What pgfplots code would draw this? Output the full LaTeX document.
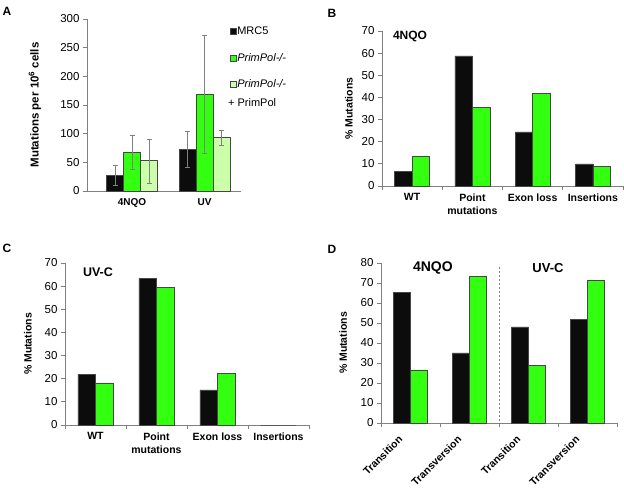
\documentclass[border=0pt]{standalone}
\usepackage{fontspec}
\setmainfont{Liberation Sans}
\usepackage{pgfplots}
\pgfplotsset{compat=1.18}

\definecolor{barblack}{RGB}{12,12,12}
\definecolor{bargreen}{RGB}{51,255,17}
\definecolor{barlight}{RGB}{204,255,170}
\definecolor{axgray}{RGB}{128,128,128}
\definecolor{edgegray}{RGB}{70,70,70}

\pgfplotsset{
  panel/.style={
    scale only axis, anchor=south west,
    axis x line=bottom, axis y line=left,
    axis line style={axgray, -, line width=0.8pt},
    tick style={axgray, line width=0.8pt},
    tick align=outside,
    major tick length=4pt,
    minor tick length=4pt,
    enlargelimits=false,
    clip=false,
    /pgf/number format/assume math mode=true,
    yticklabel style={font=\fontsize{11.5}{13}\selectfont},
    xticklabel style={font=\fontsize{10.5}{13}\selectfont\bfseries, align=center},
    ylabel style={font=\fontsize{10.5}{12}\selectfont\bfseries},
    major x tick style={draw=none},
    ybar, bar width=0.29,
  },
  blk/.style={fill=barblack, draw=edgegray, line width=0.6pt},
  grn/.style={fill=bargreen, draw=edgegray, line width=0.6pt},
  lgt/.style={fill=barlight, draw=edgegray, line width=0.6pt},
}

\begin{document}
\begin{tikzpicture}
\useasboundingbox (0,0) rectangle (624pt,488pt);

% panel letters
\node[font=\fontsize{12}{14}\selectfont\bfseries] at (7pt,477pt) {A};
\node[font=\fontsize{12}{14}\selectfont\bfseries] at (332pt,475pt) {B};
\node[font=\fontsize{12}{14}\selectfont\bfseries] at (7pt,240pt) {C};
\node[font=\fontsize{12}{14}\selectfont\bfseries] at (332pt,239pt) {D};

% ---------- A ----------
\begin{axis}[panel,
  at={(87pt,297pt)}, width=154pt, height=172pt,
  xmin=-0.62, xmax=1.5, ymin=0, ymax=300,
  ytick={0,50,...,300},
  xtick={0,1}, xticklabels={4NQO,UV},
  xticklabel style={font=\fontsize{10}{12}\selectfont\bfseries},
  bar width=0.234,
  ylabel={Mutations per 10\textsuperscript{6} cells},
  ylabel style={at={(axis description cs:-0.338,0.5)}, anchor=center,
    font=\fontsize{11.5}{13}\selectfont\bfseries},
  legend image code/.code={\draw[#1] (0pt,-3pt) rectangle (6pt,3pt);},
  legend style={at={(rel axis cs:0.925,0.96)}, anchor=north west,
    draw=none, fill=none, inner sep=0pt, row sep=15pt,
    font=\fontsize{11}{13}\selectfont,
    nodes={inner sep=1pt}},
  legend cell align=left,
  error bars/error bar style={axgray, line width=0.6pt},
  error bars/error mark options={rotate=90, mark size=2.5pt, axgray, line width=0.6pt},
]
\addplot[blk, bar shift=-0.234, error bars/.cd, y dir=both, y explicit]
  coordinates {(0,27) += (0,18) -= (0,17) (1,72) += (0,32) -= (0,31)};
\addlegendentry{MRC5}
\addplot[grn, bar shift=0, error bars/.cd, y dir=both, y explicit]
  coordinates {(0,68) += (0,29) -= (0,30) (1,169) += (0,103) -= (0,103)};
\addlegendentry{\textit{PrimPol-/-}}
\addplot[lgt, bar shift=0.234, error bars/.cd, y dir=both, y explicit]
  coordinates {(0,53) += (0,37) -= (0,39) (1,94) += (0,12) -= (0,15)};
\addlegendentry{\textit{PrimPol-/-}}
\node[anchor=west, font=\fontsize{11}{13}\selectfont, inner sep=0pt]
  at (rel axis cs:0.915,0.517) {+ PrimPol};
\end{axis}

% ---------- B ----------
\begin{axis}[panel,
  at={(382pt,302pt)}, width=241pt, height=155pt,
  xmin=-0.5, xmax=3.5, ymin=0, ymax=70,
  ytick={0,10,...,70},
  xtick={0,1,2,3},
  xticklabels={WT,{Point\\mutations},Exon loss,Insertions},
  minor xtick={-0.5,0.5,1.5,2.5,3.5},
  ylabel={\% Mutations},
  ylabel style={at={(axis description cs:-0.137,0.5)}, anchor=center},
]
\addplot[blk, bar shift=-0.145] coordinates {(0,6.6) (1,58.8) (2,24.4) (3,10)};
\addplot[grn, bar shift=0.145] coordinates {(0,13.3) (1,35.4) (2,41.9) (3,8.9)};
\node[font=\fontsize{12}{14}\selectfont\bfseries] at (axis cs:-0.035,67.3) {4NQO};
\end{axis}

% ---------- C ----------
\begin{axis}[panel,
  at={(65pt,63pt)}, width=244pt, height=162pt,
  xmin=-0.5, xmax=3.5, ymin=0, ymax=70,
  ytick={0,10,...,70},
  xtick={0,1,2,3},
  xticklabels={WT,{Point\\mutations},Exon loss,Insertions},
  minor xtick={-0.5,0.5,1.5,2.5,3.5},
  ylabel={\% Mutations},
  ylabel style={at={(axis description cs:-0.152,0.5)}, anchor=center},
]
\addplot[blk, bar shift=-0.145] coordinates {(0,21.8) (1,63.4) (2,15.2) (3,0)};
\addplot[grn, bar shift=0.145] coordinates {(0,18.2) (1,59.3) (2,22.4) (3,0)};
\node[font=\fontsize{12.5}{14}\selectfont\bfseries] at (axis cs:0.04,66.1) {UV-C};
\end{axis}

% ---------- D ----------
\begin{axis}[panel,
  at={(381pt,65pt)}, width=236pt, height=160pt,
  xmin=-0.5, xmax=3.5, ymin=0, ymax=80,
  ytick={0,10,...,80},
  xtick={0,1,2,3},
  xticklabels={Transition,Transversion,Transition,Transversion},
  xticklabel style={rotate=45, anchor=north east, yshift=7pt, xshift=-11pt,
    font=\fontsize{10.5}{12}\selectfont\bfseries},
  minor xtick={-0.5,0.5,1.5,2.5,3.5},
  ylabel={\% Mutations},
  ylabel style={at={(axis description cs:-0.161,0.5)}, anchor=center},
]
\addplot[blk, bar shift=-0.145] coordinates {(0,65.2) (1,35.1) (2,48.1) (3,51.9)};
\addplot[grn, bar shift=0.145] coordinates {(0,26.6) (1,73.2) (2,28.8) (3,71.2)};
\draw[axgray, line width=0.8pt, dash pattern=on 2pt off 2pt] (axis cs:1.5,-1) -- (axis cs:1.5,79);
\node[font=\fontsize{14}{16}\selectfont\bfseries] at (axis cs:0.38,77.5) {4NQO};
\node[font=\fontsize{13}{15}\selectfont\bfseries] at (axis cs:2.33,77.5) {UV-C};
\end{axis}
\end{tikzpicture}
\end{document}
